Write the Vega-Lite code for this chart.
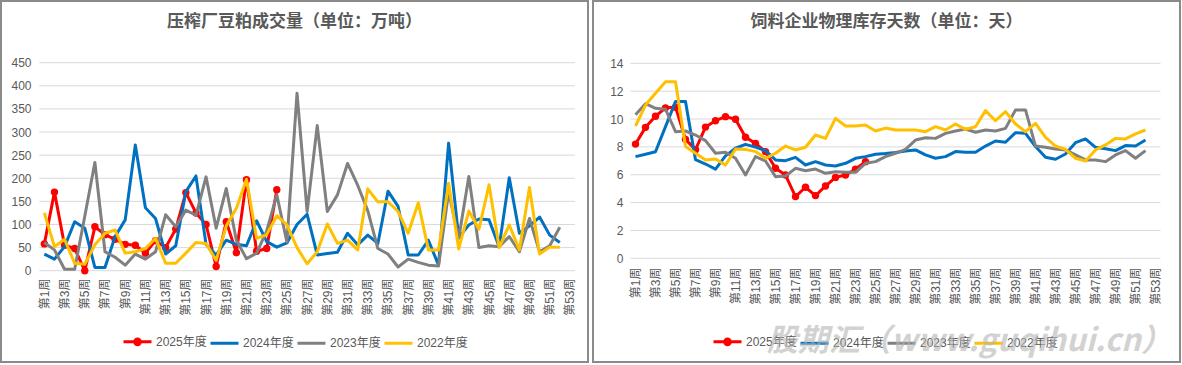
{
  "$schema": "https://vega.github.io/schema/vega-lite/v6.json",
  "padding": 0,
  "spacing": 5,
  "bounds": "flush",
  "title": {"text": "股期汇（www.guqihui.cn）", "orient": "bottom", "anchor": "end", "offset": -36, "dx": -9, "fontSize": 31, "fontStyle": "italic", "fontWeight": "bold", "color": "rgba(180,180,180,0.6)", "font": "'Noto Sans CJK SC', sans-serif"},
  "datasets": {
    "gridL": [{"值": 0}, {"值": 50}, {"值": 100}, {"值": 150}, {"值": 200}, {"值": 250}, {"值": 300}, {"值": 350}, {"值": 400}, {"值": 450}],
    "gridR": [{"值": 0}, {"值": 2}, {"值": 4}, {"值": 6}, {"值": 8}, {"值": 10}, {"值": 12}, {"值": 14}],
    "left": [
      {"w": 1, "2025年度": 58, "2024年度": 36, "2023年度": 61, "2022年度": 125},
      {"w": 2, "2025年度": 170, "2024年度": 25, "2023年度": 45, "2022年度": 52},
      {"w": 3, "2025年度": 55, "2024年度": 52, "2023年度": 3, "2022年度": 68},
      {"w": 4, "2025年度": 48, "2024年度": 106, "2023年度": 3, "2022年度": 16},
      {"w": 5, "2025年度": 0, "2024年度": 92, "2023年度": 118, "2022年度": 14},
      {"w": 6, "2025年度": 95, "2024年度": 7, "2023年度": 234, "2022年度": 56},
      {"w": 7, "2025年度": 78, "2024年度": 7, "2023年度": 41, "2022年度": 81},
      {"w": 8, "2025年度": 68, "2024年度": 74, "2023年度": 29, "2022年度": 88},
      {"w": 9, "2025年度": 57, "2024年度": 110, "2023年度": 12, "2022年度": 38},
      {"w": 10, "2025年度": 55, "2024年度": 272, "2023年度": 36, "2022年度": 41},
      {"w": 11, "2025年度": 38, "2024年度": 136, "2023年度": 25, "2022年度": 48},
      {"w": 12, "2025年度": 65, "2024年度": 113, "2023年度": 41, "2022年度": 70},
      {"w": 13, "2025年度": 50, "2024年度": 36, "2023年度": 121, "2022年度": 16},
      {"w": 14, "2025年度": 90, "2024年度": 54, "2023年度": 95, "2022年度": 16},
      {"w": 15, "2025年度": 169, "2024年度": 171, "2023年度": 131, "2022年度": 38},
      {"w": 16, "2025年度": 125, "2024年度": 205, "2023年度": 120, "2022年度": 61},
      {"w": 17, "2025年度": 100, "2024年度": 57, "2023年度": 203, "2022年度": 59},
      {"w": 18, "2025年度": 9, "2024年度": 34, "2023年度": 92, "2022年度": 22},
      {"w": 19, "2025年度": 106, "2024年度": 66, "2023年度": 178, "2022年度": 97},
      {"w": 20, "2025年度": 39, "2024年度": 57, "2023年度": 66, "2022年度": 135},
      {"w": 21, "2025年度": 197, "2024年度": 54, "2023年度": 26, "2022年度": 198},
      {"w": 22, "2025年度": 42, "2024年度": 108, "2023年度": 38, "2022年度": 70},
      {"w": 23, "2025年度": 48, "2024年度": 63, "2023年度": 86, "2022年度": 78},
      {"w": 24, "2025年度": 175, "2024年度": 51, "2023年度": 164, "2022年度": 119},
      {"w": 25, "2024年度": 60, "2023年度": 62, "2022年度": 99},
      {"w": 26, "2024年度": 100, "2023年度": 384, "2022年度": 50},
      {"w": 27, "2024年度": 122, "2023年度": 128, "2022年度": 15},
      {"w": 28, "2024年度": 34, "2023年度": 314, "2022年度": 41},
      {"w": 29, "2024年度": 37, "2023年度": 128, "2022年度": 101},
      {"w": 30, "2024年度": 40, "2023年度": 164, "2022年度": 59},
      {"w": 31, "2024年度": 81, "2023年度": 232, "2022年度": 66},
      {"w": 32, "2024年度": 56, "2023年度": 185, "2022年度": 45},
      {"w": 33, "2024年度": 77, "2023年度": 130, "2022年度": 177},
      {"w": 34, "2024年度": 59, "2023年度": 48, "2022年度": 149},
      {"w": 35, "2024年度": 172, "2023年度": 36, "2022年度": 149},
      {"w": 36, "2024年度": 139, "2023年度": 8, "2022年度": 128},
      {"w": 37, "2024年度": 34, "2023年度": 25, "2022年度": 81},
      {"w": 38, "2024年度": 34, "2023年度": 18, "2022年度": 147},
      {"w": 39, "2024年度": 66, "2023年度": 12, "2022年度": 45},
      {"w": 40, "2024年度": 12, "2023年度": 10, "2022年度": 45},
      {"w": 41, "2024年度": 276, "2023年度": 170, "2022年度": 189},
      {"w": 42, "2024年度": 71, "2023年度": 70, "2022年度": 47},
      {"w": 43, "2024年度": 99, "2023年度": 204, "2022年度": 129},
      {"w": 44, "2024年度": 112, "2023年度": 50, "2022年度": 90},
      {"w": 45, "2024年度": 110, "2023年度": 54, "2022年度": 186},
      {"w": 46, "2024年度": 52, "2023年度": 52, "2022年度": 50},
      {"w": 47, "2024年度": 201, "2023年度": 74, "2022年度": 99},
      {"w": 48, "2024年度": 81, "2023年度": 41, "2022年度": 45},
      {"w": 49, "2024年度": 97, "2023年度": 113, "2022年度": 180},
      {"w": 50, "2024年度": 116, "2023年度": 41, "2022年度": 36},
      {"w": 51, "2024年度": 77, "2023年度": 54, "2022年度": 51},
      {"w": 52, "2024年度": 61, "2023年度": 94, "2022年度": 51}
    ],
    "right": [
      {"w": 1, "2025年度": 8.2, "2024年度": 7.3, "2023年度": 10.3, "2022年度": 9.5},
      {"w": 2, "2025年度": 9.4, "2024年度": 7.47, "2023年度": 11.1, "2022年度": 11.0},
      {"w": 3, "2025年度": 10.2, "2024年度": 7.65, "2023年度": 10.77, "2022年度": 11.85},
      {"w": 4, "2025年度": 10.8, "2024年度": 9.45, "2023年度": 10.7, "2022年度": 12.68},
      {"w": 5, "2025年度": 10.85, "2024年度": 11.25, "2023年度": 9.09, "2022年度": 12.68},
      {"w": 6, "2025年度": 8.54, "2024年度": 11.25, "2023年度": 9.14, "2022年度": 8.02},
      {"w": 7, "2025年度": 7.8, "2024年度": 7.08, "2023年度": 8.85, "2022年度": 7.54},
      {"w": 8, "2025年度": 9.42, "2024年度": 6.77, "2023年度": 8.45, "2022年度": 7.06},
      {"w": 9, "2025年度": 9.88, "2024年度": 6.4, "2023年度": 7.54, "2022年度": 7.13},
      {"w": 10, "2025年度": 10.17, "2024年度": 7.35, "2023年度": 7.61, "2022年度": 6.7},
      {"w": 11, "2025年度": 9.98, "2024年度": 7.9, "2023年度": 7.18, "2022年度": 7.85},
      {"w": 12, "2025年度": 8.69, "2024年度": 8.18, "2023年度": 5.98, "2022年度": 7.82},
      {"w": 13, "2025年度": 8.25, "2024年度": 7.98, "2023年度": 7.3, "2022年度": 7.66},
      {"w": 14, "2025年度": 7.66, "2024年度": 7.73, "2023年度": 6.99, "2022年度": 7.18},
      {"w": 15, "2025年度": 6.46, "2024年度": 7.06, "2023年度": 5.86, "2022年度": 7.54},
      {"w": 16, "2025年度": 5.98, "2024年度": 7.01, "2023年度": 5.91, "2022年度": 8.06},
      {"w": 17, "2025年度": 4.43, "2024年度": 7.25, "2023年度": 6.46, "2022年度": 7.78},
      {"w": 18, "2025年度": 5.1, "2024年度": 6.7, "2023年度": 6.29, "2022年度": 7.97},
      {"w": 19, "2025年度": 4.5, "2024年度": 6.94, "2023年度": 6.41, "2022年度": 8.85},
      {"w": 20, "2025年度": 5.19, "2024年度": 6.7, "2023年度": 6.1, "2022年度": 8.61},
      {"w": 21, "2025年度": 5.81, "2024年度": 6.63, "2023年度": 6.22, "2022年度": 10.05},
      {"w": 22, "2025年度": 5.98, "2024年度": 6.82, "2023年度": 6.17, "2022年度": 9.5},
      {"w": 23, "2025年度": 6.39, "2024年度": 7.18, "2023年度": 6.17, "2022年度": 9.5},
      {"w": 24, "2025年度": 6.94, "2024年度": 7.3, "2023年度": 6.82, "2022年度": 9.57},
      {"w": 25, "2024年度": 7.47, "2023年度": 6.94, "2022年度": 9.14},
      {"w": 26, "2024年度": 7.52, "2023年度": 7.3, "2022年度": 9.35},
      {"w": 27, "2024年度": 7.59, "2023年度": 7.54, "2022年度": 9.21},
      {"w": 28, "2024年度": 7.71, "2023年度": 7.82, "2022年度": 9.21},
      {"w": 29, "2024年度": 7.78, "2023年度": 8.49, "2022年度": 9.21},
      {"w": 30, "2024年度": 7.42, "2023年度": 8.66, "2022年度": 9.09},
      {"w": 31, "2024年度": 7.18, "2023年度": 8.61, "2022年度": 9.45},
      {"w": 32, "2024年度": 7.3, "2023年度": 8.97, "2022年度": 9.21},
      {"w": 33, "2024年度": 7.66, "2023年度": 9.14, "2022年度": 9.64},
      {"w": 34, "2024年度": 7.61, "2023年度": 9.28, "2022年度": 9.26},
      {"w": 35, "2024年度": 7.61, "2023年度": 9.05, "2022年度": 9.45},
      {"w": 36, "2024年度": 8.06, "2023年度": 9.21, "2022年度": 10.6},
      {"w": 37, "2024年度": 8.42, "2023年度": 9.14, "2022年度": 9.88},
      {"w": 38, "2024年度": 8.33, "2023年度": 9.33, "2022年度": 10.53},
      {"w": 39, "2024年度": 9.02, "2023年度": 10.65, "2022年度": 9.64},
      {"w": 40, "2024年度": 8.97, "2023年度": 10.65, "2022年度": 9.09},
      {"w": 41, "2024年度": 8.02, "2023年度": 8.06, "2022年度": 9.69},
      {"w": 42, "2024年度": 7.25, "2023年度": 7.97, "2022年度": 8.69},
      {"w": 43, "2024年度": 7.11, "2023年度": 7.85, "2022年度": 8.06},
      {"w": 44, "2024年度": 7.49, "2023年度": 7.78, "2022年度": 7.82},
      {"w": 45, "2024年度": 8.3, "2023年度": 7.42, "2022年度": 7.18},
      {"w": 46, "2024年度": 8.57, "2023年度": 7.06, "2022年度": 6.99},
      {"w": 47, "2024年度": 7.97, "2023年度": 7.06, "2022年度": 7.78},
      {"w": 48, "2024年度": 7.87, "2023年度": 6.94, "2022年度": 8.14},
      {"w": 49, "2024年度": 7.73, "2023年度": 7.42, "2022年度": 8.61},
      {"w": 50, "2024年度": 8.09, "2023年度": 7.73, "2022年度": 8.57},
      {"w": 51, "2024年度": 8.06, "2023年度": 7.18, "2022年度": 8.93},
      {"w": 52, "2024年度": 8.49, "2023年度": 7.73, "2022年度": 9.21}
    ]
  },
  "hconcat": [
    {
      "width": 587,
      "height": 361,
      "title": {"text": "压榨厂豆粕成交量（单位：万吨）", "offset": -30},
      "layer": [
        {
          "data": {"name": "gridL"},
          "mark": {"type": "rule", "stroke": "#d9d9d9", "strokeWidth": 1},
          "encoding": {
            "y": {"field": "值", "type": "quantitative"},
            "x": {"datum": 0.5, "type": "quantitative"},
            "x2": {"datum": 53.5}
          }
        },
        {
          "data": {"name": "left"},
          "transform": [
            {"fold": ["2025年度", "2024年度", "2023年度", "2022年度"], "as": ["年度", "值"]},
            {"filter": "isValid(datum['值']) && datum['年度'] === '2025年度'"}
          ],
          "mark": {"type": "point", "filled": true, "size": 55, "color": "#FF0000", "opacity": 1},
          "encoding": {
            "x": {"field": "w", "type": "quantitative"},
            "y": {"field": "值", "type": "quantitative"}
          }
        },
        {
          "data": {"name": "left"},
          "transform": [
            {"fold": ["2025年度", "2024年度", "2023年度", "2022年度"], "as": ["年度", "值"]},
            {"filter": "isValid(datum['值'])"}
          ],
          "mark": {"type": "line", "strokeWidth": 3, "strokeJoin": "round"},
          "encoding": {
            "x": {"field": "w", "type": "quantitative",
              "scale": {"domain": [1, 53], "range": [43.35, 568.9], "nice": false, "zero": false},
              "axis": {"title": null, "values": [1,3,5,7,9,11,13,15,17,19,21,23,25,27,29,31,33,35,37,39,41,43,45,47,49,51,53], "tickCount": 100, "labelExpr": "'第' + datum.value + '周'", "labelAngle": 270, "labelAlign": "right", "labelBaseline": "middle", "ticks": false, "tickSize": 0, "domain": false, "grid": false, "offset": -84, "labelPadding": 0, "labelOverlap": false, "labelBound": false, "labelFlush": false}},
            "y": {"field": "值", "type": "quantitative",
              "scale": {"domain": [0, 450], "range": [269.7, 61.7], "nice": false, "zero": false},
              "axis": {"title": null, "values": [0,50,100,150,200,250,300,350,400,450], "format": "d", "tickCount": 100, "ticks": false, "tickSize": 0, "domain": false, "grid": false, "offset": -30, "labelPadding": 0}},
            "color": {"field": "年度", "type": "nominal",
              "scale": {"domain": ["2025年度", "2024年度", "2023年度", "2022年度"], "range": ["#FF0000", "#0070C0", "#808080", "#FFC000"]},
              "legend": {"title": null, "orient": "none", "legendX": 121, "legendY": 325, "direction": "horizontal", "symbolType": "stroke", "symbolSize": 784, "symbolStrokeWidth": 3, "labelFontSize": 12, "labelColor": "#595959", "columnPadding": -3, "labelOffset": 3, "padding": 0,
                "encode": {"symbols": {"update": {"shape": {"signal": "datum.value === '2025年度' ? 'M-1,0H1M0.2,0A0.2,0.2,0,1,1,-0.2,0A0.2,0.2,0,1,1,0.2,0' : 'stroke'"}, "fill": {"signal": "datum.value === '2025年度' ? '#FF0000' : 'transparent'"}}}}}}
          }
        }
      ]
    },
    {
      "width": 587,
      "height": 361,
      "title": {"text": "饲料企业物理库存天数（单位：天）", "offset": -30},
      "layer": [
        {
          "data": {"name": "gridR"},
          "mark": {"type": "rule", "stroke": "#d9d9d9", "strokeWidth": 1},
          "encoding": {
            "y": {"field": "值", "type": "quantitative"},
            "x": {"datum": 0.5, "type": "quantitative"},
            "x2": {"datum": 53.5}
          }
        },
        {
          "data": {"name": "right"},
          "transform": [
            {"fold": ["2025年度", "2024年度", "2023年度", "2022年度"], "as": ["年度", "值"]},
            {"filter": "isValid(datum['值']) && datum['年度'] === '2025年度'"}
          ],
          "mark": {"type": "point", "filled": true, "size": 55, "color": "#FF0000", "opacity": 1},
          "encoding": {
            "x": {"field": "w", "type": "quantitative"},
            "y": {"field": "值", "type": "quantitative"}
          }
        },
        {
          "data": {"name": "right"},
          "transform": [
            {"fold": ["2025年度", "2024年度", "2023年度", "2022年度"], "as": ["年度", "值"]},
            {"filter": "isValid(datum['值'])"}
          ],
          "mark": {"type": "line", "strokeWidth": 3, "strokeJoin": "round"},
          "encoding": {
            "x": {"field": "w", "type": "quantitative",
              "scale": {"domain": [1, 53], "range": [42.5, 562.5], "nice": false, "zero": false},
              "axis": {"title": null, "values": [1,3,5,7,9,11,13,15,17,19,21,23,25,27,29,31,33,35,37,39,41,43,45,47,49,51,53], "tickCount": 100, "labelExpr": "'第' + datum.value + '周'", "labelAngle": 270, "labelAlign": "right", "labelBaseline": "middle", "ticks": false, "tickSize": 0, "domain": false, "grid": false, "offset": -95, "labelPadding": 0, "labelOverlap": false, "labelBound": false, "labelFlush": false}},
            "y": {"field": "值", "type": "quantitative",
              "scale": {"domain": [0, 14], "range": [257.3, 62.3], "nice": false, "zero": false},
              "axis": {"title": null, "values": [0,2,4,6,8,10,12,14], "format": "d", "tickCount": 100, "ticks": false, "tickSize": 0, "domain": false, "grid": false, "offset": -30, "labelPadding": 0}},
            "color": {"field": "年度", "type": "nominal",
              "scale": {"domain": ["2025年度", "2024年度", "2023年度", "2022年度"], "range": ["#FF0000", "#0070C0", "#808080", "#FFC000"]},
              "legend": {"title": null, "orient": "none", "legendX": 119, "legendY": 325, "direction": "horizontal", "symbolType": "stroke", "symbolSize": 784, "symbolStrokeWidth": 3, "labelFontSize": 12, "labelColor": "#595959", "columnPadding": -3, "labelOffset": 3, "padding": 0,
                "encode": {"symbols": {"update": {"shape": {"signal": "datum.value === '2025年度' ? 'M-1,0H1M0.2,0A0.2,0.2,0,1,1,-0.2,0A0.2,0.2,0,1,1,0.2,0' : 'stroke'"}, "fill": {"signal": "datum.value === '2025年度' ? '#FF0000' : 'transparent'"}}}}}}
          }
        }
      ]
    }
  ],
  "resolve": {"legend": {"color": "independent"}},
  "config": {
    "font": "'Liberation Sans', 'Noto Sans CJK SC', sans-serif",
    "view": {"stroke": "#8a8a8a", "strokeWidth": 2},
    "title": {"fontSize": 17, "fontWeight": "bold", "color": "#595959", "font": "'Noto Sans CJK SC', sans-serif", "anchor": "middle"},
    "axis": {"labelFont": "'Liberation Sans', 'Noto Sans CJK SC', sans-serif", "labelFontSize": 12, "labelColor": "#595959"},
    "legend": {"labelFont": "'Liberation Sans', 'Noto Sans CJK SC', sans-serif"}
  }
}
